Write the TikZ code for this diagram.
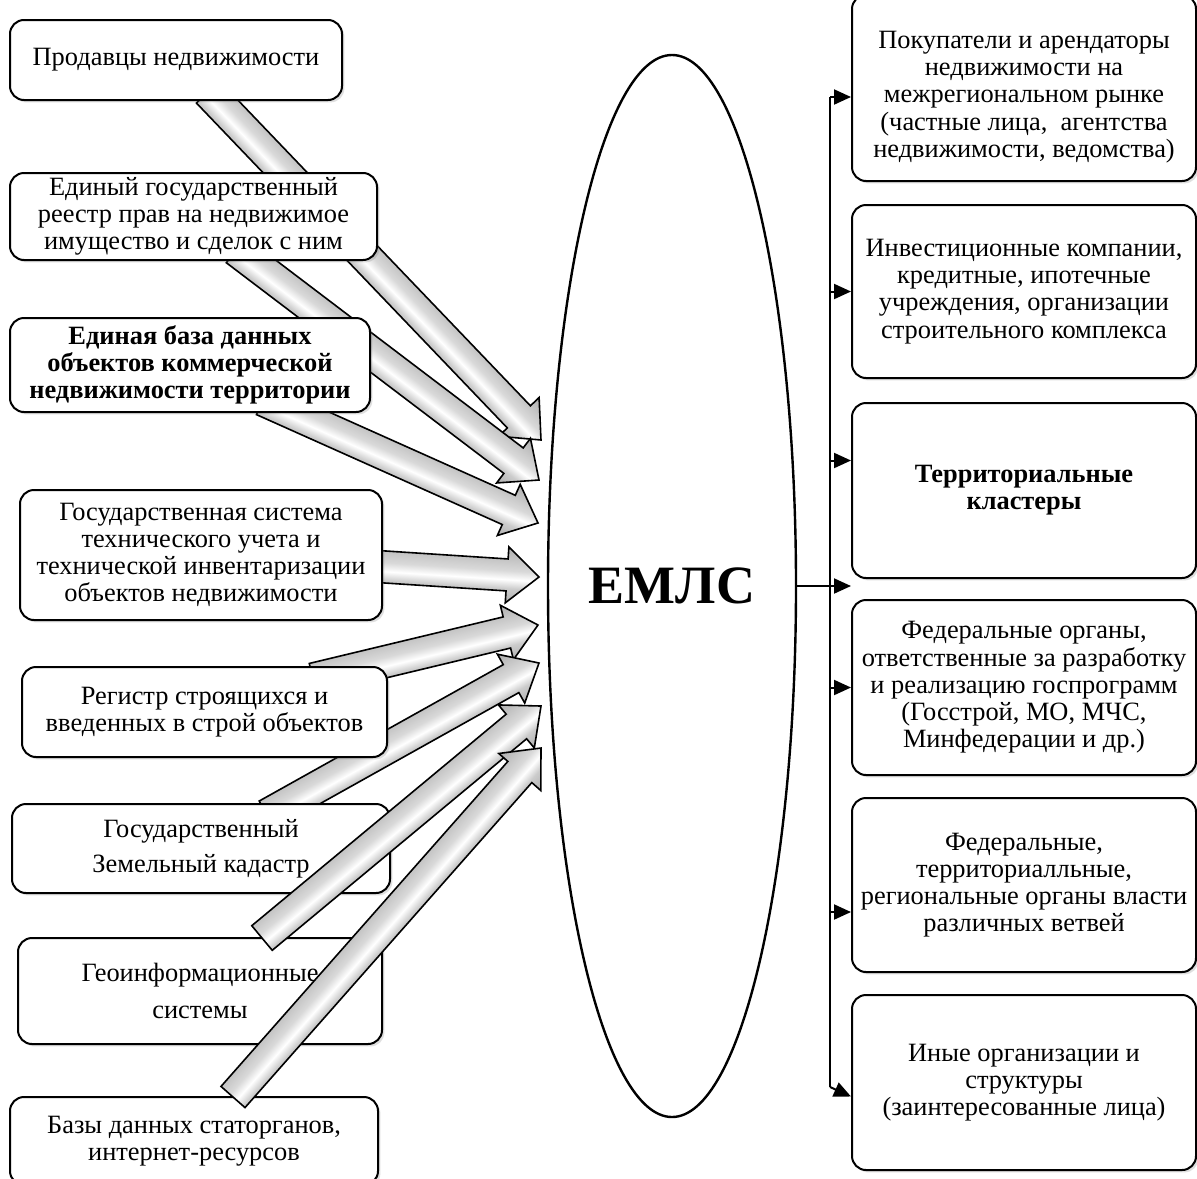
\documentclass[tikz,border=0pt]{standalone}
\usepackage{fontspec}
\setmainfont{Liberation Serif}
\usetikzlibrary{calc,arrows.meta,shapes.geometric,shadows}

% tube-like shading across a wide arrow
\pgfdeclareverticalshading{tube}{100bp}{color(0bp)=(gray!70); color(21bp)=(gray!70);
  color(38bp)=(gray!40); color(46bp)=(white); color(54bp)=(gray!30);
  color(79bp)=(gray!70); color(100bp)=(gray!70)}

% wide shaded arrow from #1 (tail) to #2 (tip)
\newcommand\flowarrow[2]{%
  \path let \p1=($(#2)-(#1)$) in \pgfextra{%
    \pgfmathsetmacro\flang{atan2(\y1,\x1)}\xdef\flang{\flang}%
    \pgfmathsetmacro\fllen{veclen(\x1,\y1)}\xdef\fllen{\fllen}};
  \begin{scope}[transform canvas={shift={(#1)}, rotate=\flang}]
    \shade[draw=black, line width=0.8pt, shading=tube]
      (0pt,-8pt) -- (\fllen pt-16pt,-8pt) -- (\fllen pt-16pt,-14pt) -- (\fllen pt,0pt)
      -- (\fllen pt-16pt,14pt) -- (\fllen pt-16pt,8pt) -- (0pt,8pt) -- cycle;
  \end{scope}}

\tikzset{
  srcbox/.style={draw, line width=1pt, rounded corners=7pt, fill=white, align=center,
    inner sep=0pt, font=\fontsize{13.2}{13.6}\selectfont,
    drop shadow={opacity=0.25, shadow xshift=1.2pt, shadow yshift=-1.2pt}},
  userbox/.style={srcbox, minimum width=172pt, minimum height=87.5pt},
  feed/.style={line width=1pt, -{Triangle[length=8.5pt,width=7.5pt]}},
}

\begin{document}
\begin{tikzpicture}[x=0.5pt, y=-0.5pt]
  \clip (0,0) rectangle (1197,1178);
  \fill[white] (0,0) rectangle (1197,1178);

  % The ellipse
  \node[draw, ellipse, line width=1.2pt, minimum width=124pt, minimum height=531pt,
    inner sep=0pt, font=\fontsize{27}{30}\selectfont\bfseries] (emls) at (672,586) {ЕМЛС};

  % Tails and tips of the wide arrows
  \coordinate (t1) at (208,92);  \coordinate (h1) at (541,440);
  \coordinate (t2) at (236,250); \coordinate (h2) at (539,480);
  \coordinate (t3) at (263,400); \coordinate (h3) at (538,523);
  \coordinate (t4) at (370,566); \coordinate (h4) at (539,577);
  \coordinate (t5) at (313,679); \coordinate (h5) at (538,625);
  \coordinate (t6) at (267,815); \coordinate (h6) at (539,663);
  \coordinate (t7) at (262,938); \coordinate (h7) at (541,706);
  \coordinate (t8) at (233,1097); \coordinate (h8) at (541,748);

  % Arrows under the boxes
  \foreach \i in {1,...,6} {\flowarrow{t\i}{h\i}}

  % Sources
  \node[srcbox, minimum width=166pt, minimum height=40pt] (sell) at (176,60)
    {Продавцы недвижимости};
  \node[srcbox, minimum width=183.5pt, minimum height=43.5pt] (reestr) at (193.5,216.5)
    {Единый государственный\\ реестр прав на недвижимое\\ имущество и сделок с ним};
  \node[srcbox, minimum width=180pt, minimum height=47pt, font=\fontsize{13.2}{13.6}\selectfont\bfseries] (base) at (190,365)
    {Единая база данных\\ объектов коммерческой\\ недвижимости территории};
  \node[srcbox, minimum width=181pt, minimum height=65pt] (tech) at (201,555)
    {Государственная система\\ технического учета и\\ технической инвентаризации\\ объектов недвижимости};
  \node[srcbox, minimum width=182.5pt, minimum height=45pt] (reg) at (204.5,712)
    {Регистр строящихся и\\ введенных в строй объектов};
  \node[srcbox, minimum width=189pt, minimum height=44.5pt] (cad) at (201,848.5)
    {Государственный\\[4pt] Земельный кадастр};
  \node[srcbox, minimum width=182pt, minimum height=53pt] (geo) at (200,991)
    {Геоинформационные\\[5pt] системы};
  \node[srcbox, minimum width=184pt, minimum height=44pt] (stat) at (194,1141)
    {Базы данных статорганов,\\ интернет-ресурсов};

  % Arrows over the boxes
  \flowarrow{t7}{h7}
  \flowarrow{t8}{h8}

  % Users
  \node[userbox, minimum height=93pt] (buyersbox) at (1024,88) {};
  \node[align=center, inner sep=0pt, font=\fontsize{13.2}{13.6}\selectfont] (buyers) at (1024,97)
    {Покупатели и арендаторы\\ недвижимости на\\ межрегиональном рынке\\ (частные лица,\ \ агентства\\ недвижимости, ведомства)};
  \node[userbox, minimum height=86.5pt] (invest) at (1024,291.5)
    {Инвестиционные компании,\\ кредитные, ипотечные\\ учреждения, организации\\ строительного комплекса};
  \node[userbox, font=\fontsize{13.2}{13.6}\selectfont\bfseries] (clusters) at (1024,490.5)
    {Территориальные\\ кластеры};
  \node[userbox] (federal) at (1024,687.5)
    {Федеральные органы,\\ ответственные за разработку\\ и реализацию госпрограмм\\ (Госстрой, МО, МЧС,\\ Минфедерации и др.)};
  \node[userbox, minimum height=87pt] (branches) at (1024,885)
    {Федеральные,\\ территориалльные,\\ региональные органы власти\\ различных ветвей};
  \node[userbox] (others) at (1024,1082.5)
    {Иные организации и\\ структуры\\ (заинтересованные лица)};

  % Distribution line
  \coordinate (hub) at (830,0);
  \coordinate (turn) at (830,1087);
  \draw[line width=1pt] (hub |- buyers) -- (turn);
  \draw[feed] (hub |- buyers) -- (buyersbox.west |- buyers);
  \draw[feed] (hub |- invest.west) -- (invest.west);
  \draw[feed] ($(hub |- clusters.west)+(0,-30)$) -- ($(clusters.west)+(0,-30)$);
  \draw[feed] (hub |- federal.west) -- (federal.west);
  \draw[feed] ($(hub |- branches.west)+(0,27)$) -- ($(branches.west)+(0,27)$);
  \draw[feed] (turn) -- ($(others.west)+(0,14)$);
  \draw[feed] (emls.east) -- (emls.east -| clusters.west);
\end{tikzpicture}
\end{document}
